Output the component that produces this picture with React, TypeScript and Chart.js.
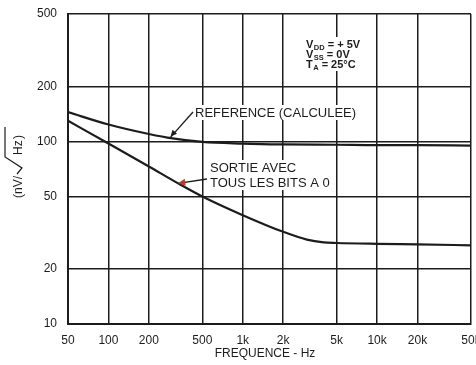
import React, { useEffect, useRef } from 'react';
import { Chart, registerables } from 'chart.js';

Chart.register(...registerables);

// Frequencies (Hz) and noise density (nV/√Hz)
const refFreq = [50, 100, 200, 300, 500, 1000, 2000, 5000, 10000, 20000, 50000];
const refNoise = [145, 124, 110, 104, 99.5, 97.5, 96.5, 96, 95.5, 95.5, 95];
const outFreq = [50, 100, 200, 330, 500, 1000, 2000, 3000, 4000, 5000, 10000, 20000, 50000];
const outNoise = [130, 97.5, 73, 59, 50, 39.5, 32, 29, 28, 27.8, 27.5, 27.3, 27];

const xTicks = [50, 100, 200, 500, 1000, 2000, 5000, 10000, 20000, 50000];
const xTickLabels = ['50', '100', '200', '500', '1k', '2k', '5k', '10k', '20k', '50k'];
const yTicks = [10, 20, 50, 100, 200, 500];
const yTickLabels = ['10', '20', '50', '100', '200', '500'];

const INK = '#1c1c1c';
const FONT = '"Liberation Sans", Arial, sans-serif';

function arrowHead(ctx: CanvasRenderingContext2D, fx: number, fy: number, tx: number, ty: number, size: number, color: string) {
  const a = Math.atan2(ty - fy, tx - fx);
  ctx.save();
  ctx.fillStyle = color;
  ctx.beginPath();
  ctx.moveTo(tx, ty);
  ctx.lineTo(tx - size * Math.cos(a - 0.45), ty - size * Math.sin(a - 0.45));
  ctx.lineTo(tx - size * Math.cos(a + 0.45), ty - size * Math.sin(a + 0.45));
  ctx.closePath();
  ctx.fill();
  ctx.restore();
}

const annotations = {
  id: 'annotations',
  afterDraw(chart: any) {
    const ctx: CanvasRenderingContext2D = chart.ctx;
    const xs = chart.scales.x;
    const ys = chart.scales.y;
    ctx.save();
    ctx.fillStyle = INK;
    ctx.strokeStyle = INK;

    // x axis title
    ctx.font = `12px ${FONT}`;
    ctx.textAlign = 'center';
    ctx.textBaseline = 'alphabetic';
    ctx.fillText('FREQUENCE - Hz', 265, 357);

    // y axis title with radical
    ctx.save();
    ctx.translate(22, 198);
    ctx.rotate(-Math.PI / 2);
    ctx.textAlign = 'left';
    ctx.font = `12px ${FONT}`;
    ctx.fillText('(nV/', 0, 0);
    ctx.lineWidth = 1.2;
    ctx.beginPath();
    ctx.moveTo(24, -5);
    ctx.lineTo(30, 0);
    ctx.lineTo(41, -17);
    ctx.lineTo(71, -17);
    ctx.stroke();
    ctx.fillText('Hz', 43, 0);
    ctx.fillText(')', 59, 0);
    ctx.restore();

    // white backgrounds behind in-plot texts (gridlines are interrupted)
    ctx.fillStyle = '#fff';
    ctx.fillRect(193, 105, 163, 15);
    ctx.fillRect(208, 160, 126, 30);
    ctx.fillRect(304, 37, 64, 34);
    ctx.fillStyle = INK;

    // curve labels
    ctx.textAlign = 'left';
    ctx.font = `13px ${FONT}`;
    ctx.fillText('REFERENCE (CALCULEE)', 195, 117);
    ctx.fillText('SORTIE AVEC', 210, 172);
    ctx.fillText('TOUS LES BITS A 0', 210, 187);

    // leader for reference
    const rtX = xs.getPixelForValue(285);
    const rtY = ys.getPixelForValue(104);
    ctx.lineWidth = 1.3;
    ctx.beginPath();
    ctx.moveTo(193, 112);
    ctx.lineTo(rtX, rtY);
    ctx.stroke();
    arrowHead(ctx, 193, 112, rtX + 1, rtY - 2, 7, INK);

    // leader for output
    const otX = xs.getPixelForValue(330);
    const otY = ys.getPixelForValue(59);
    ctx.beginPath();
    ctx.moveTo(207, 179);
    ctx.lineTo(otX, otY);
    ctx.stroke();
    arrowHead(ctx, 207, 179, otX, otY, 8, '#b5402a');

    // conditions
    const drawCond = (main: string, sub: string, rest: string, y: number) => {
      let x = 306;
      ctx.font = `bold 11px ${FONT}`;
      ctx.fillText(main, x, y);
      x += ctx.measureText(main).width + 0.5;
      ctx.font = `bold 7.5px ${FONT}`;
      ctx.fillText(sub, x, y + 1.5);
      x += ctx.measureText(sub).width + 3;
      ctx.font = `bold 11px ${FONT}`;
      ctx.fillText(rest, x, y);
    };
    drawCond('V', 'DD', '= + 5V', 48);
    drawCond('V', 'SS', '= 0V', 58);
    drawCond('T', 'A', '= 25°C', 68);

    ctx.restore();
  },
};

export default function App() {
  const canvasRef = useRef<HTMLCanvasElement | null>(null);

  useEffect(() => {
    document.body.style.margin = '0';
    const canvas = canvasRef.current;
    if (!canvas) return;
    const chart = new Chart(canvas, {
      type: 'line',
      data: {
        datasets: [
          {
            label: 'Référence (calculée)',
            data: refFreq.map((f, i) => ({ x: f, y: refNoise[i] })),
            borderColor: INK,
            borderWidth: 2.2,
            pointRadius: 0,
            cubicInterpolationMode: 'monotone',
            fill: false,
          },
          {
            label: 'Sortie avec tous les bits à 0',
            data: outFreq.map((f, i) => ({ x: f, y: outNoise[i] })),
            borderColor: INK,
            borderWidth: 2.2,
            pointRadius: 0,
            cubicInterpolationMode: 'monotone',
            fill: false,
          },
        ],
      },
      options: {
        responsive: false,
        animation: false,
        layout: { padding: { top: 14, right: 5, bottom: 0, left: 0 } },
        plugins: {
          legend: { display: false },
          tooltip: { enabled: false },
        },
        scales: {
          x: {
            type: 'logarithmic',
            min: 50,
            max: 50000,
            afterBuildTicks: (scale: any) => {
              scale.ticks = xTicks.map((v) => ({ value: v }));
            },
            afterFit: (scale: any) => {
              scale.height = 41;
              scale.paddingLeft = 0;
              scale.paddingRight = 0;
            },
            ticks: {
              autoSkip: false,
              maxRotation: 0,
              padding: 9,
              color: INK,
              font: { family: FONT, size: 12 },
              callback: (_v: any, i: number) => xTickLabels[i],
            },
            grid: { color: INK, lineWidth: 1.5, drawTicks: false },
            border: { display: true, color: INK, width: 2 },
          },
          y: {
            type: 'logarithmic',
            min: 10,
            max: 500,
            afterBuildTicks: (scale: any) => {
              scale.ticks = yTicks.map((v) => ({ value: v }));
            },
            afterFit: (scale: any) => {
              scale.width = 68;
              scale.paddingTop = 0;
              scale.paddingBottom = 0;
            },
            ticks: {
              autoSkip: false,
              padding: 11,
              color: INK,
              font: { family: FONT, size: 12 },
              callback: (_v: any, i: number) => yTickLabels[i],
            },
            grid: { color: INK, lineWidth: 1.6, drawTicks: false },
            border: { display: true, color: INK, width: 2 },
          },
        },
      } as any,
      plugins: [annotations],
    });
    return () => chart.destroy();
  }, []);

  return (
    <div style={{ width: 476, height: 365, background: '#fff' }}>
      <canvas ref={canvasRef} width={476} height={365} style={{ display: 'block' }} />
    </div>
  );
}
